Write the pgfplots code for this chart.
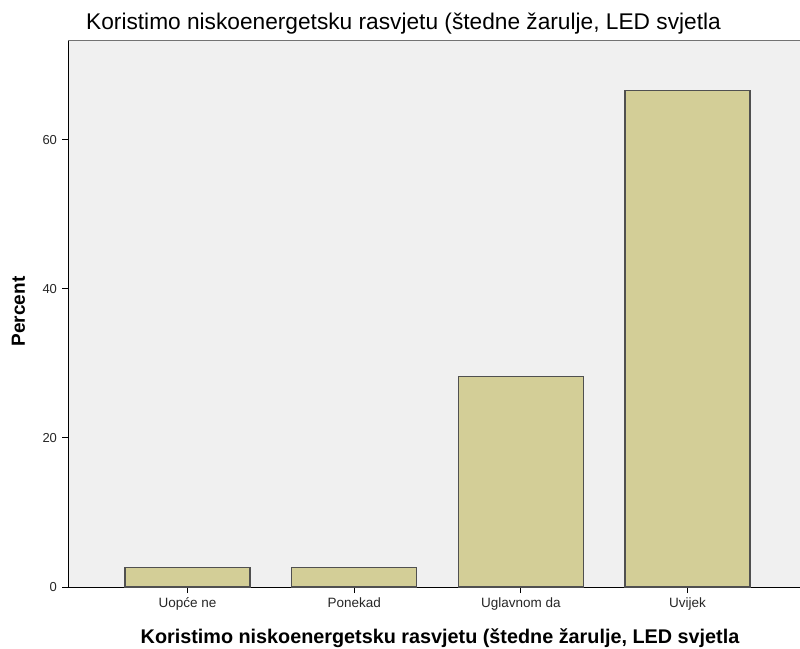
\documentclass[border=0pt]{standalone}
\usepackage{pgfplots}
\pgfplotsset{compat=1.18}
\usepackage{fontspec}
\setmainfont{Liberation Sans}
\definecolor{barcol}{RGB}{211,206,151}
\definecolor{bgcol}{RGB}{240,240,240}
\definecolor{edgecol}{RGB}{80,80,80}
\begin{document}
\begin{tikzpicture}[x=1pt,y=1pt]
\useasboundingbox (0,0) rectangle (800,648);
\begin{axis}[
  at={(68pt,61pt)}, anchor=south west,
  scale only axis, width=732pt, height=546.3pt,
  xmin=-0.717, xmax=3.675, ymin=0, ymax=73.3,
  axis x line*=bottom, axis y line*=left,
  axis line style={-, black, line width=1pt},
  axis background/.style={fill=bgcol},
  xtick={0,1,2,3},
  xticklabels={Uopće ne, Ponekad, Uglavnom da, Uvijek},
  ytick={0,20,40,60},
  tick align=outside, major tick length=6pt,
  tick style={black, line width=1pt},
  x tick label style={font=\fontsize{13.5}{15}\selectfont, text=black!85, yshift=-1pt},
  y tick label style={font=\fontsize{13}{15}\selectfont, text=black!85, xshift=-1.5pt},
  /pgf/number format/assume math mode=true,
  clip=false,
]
\addplot[ybar, bar width=125pt, fill=barcol, draw=edgecol, line width=1.2pt]
  coordinates {(0,2.564) (1,2.564) (2,28.205) (3,66.667)};
\draw[black!55, line width=1pt] (rel axis cs:0,1) -- (rel axis cs:1,1);
\end{axis}
\node[anchor=base west, inner sep=0pt] at (86,618) {\fontsize{22.7}{25}\selectfont Koristimo niskoenergetsku rasvjetu (štedne žarulje, LED svjetla};
\node[anchor=base, inner sep=0pt] at (440,5) {\fontsize{19.8}{22}\selectfont\bfseries Koristimo niskoenergetsku rasvjetu (štedne žarulje, LED svjetla};
\node[anchor=center, rotate=90, inner sep=0pt] at (18.5,336.5) {\fontsize{19}{22}\selectfont\bfseries Percent};
\end{tikzpicture}
\end{document}
